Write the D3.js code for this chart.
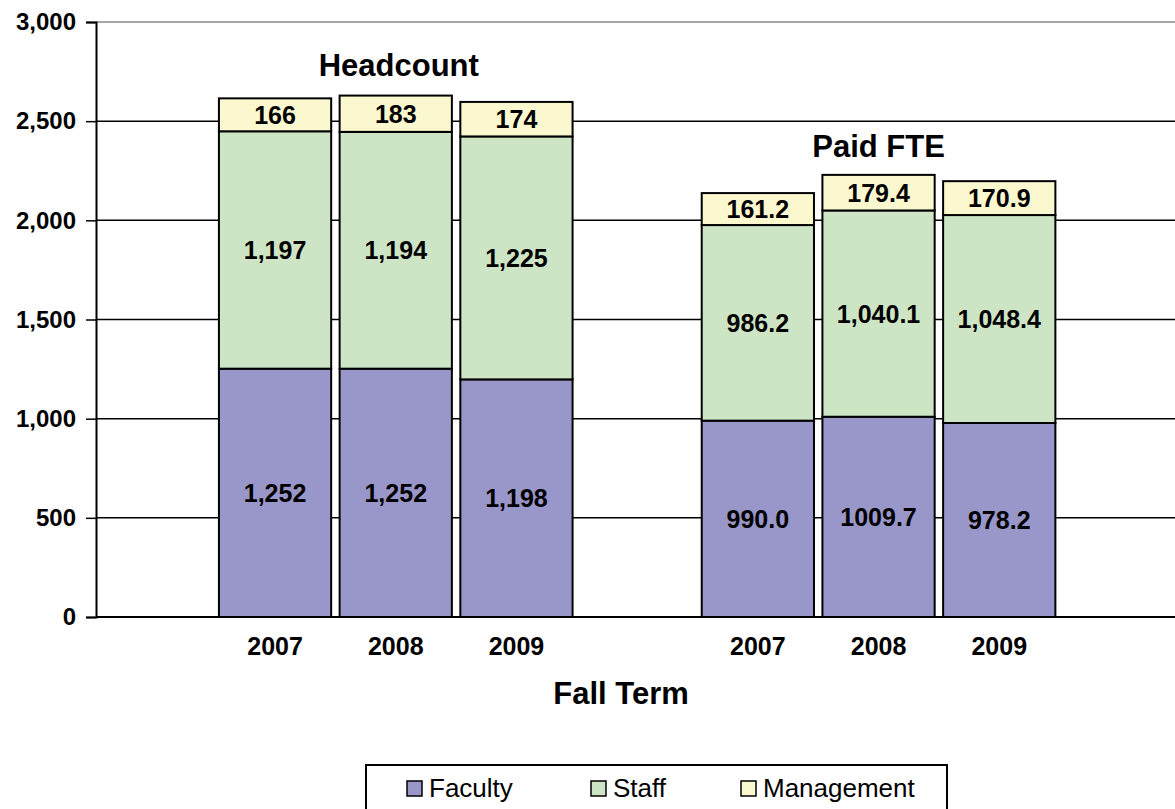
<!DOCTYPE html>
<html>
<head>
<meta charset="utf-8">
<script src="https://cdn.jsdelivr.net/npm/d3@7"></script>
<style>
  body { margin: 0; background: #fff; }
  svg { font-family: "Liberation Sans", Arial, sans-serif; }
</style>
</head>
<body>
<svg id="chart" width="1175" height="809"></svg>
<script>
// slots on the x axis (empty slots give the gaps)
var slots = ["e0", "H2007", "H2008", "H2009", "e4", "F2007", "F2008", "F2009", "e8"];
var slotLabels = ["", "2007", "2008", "2009", "", "2007", "2008", "2009", ""];

var barKeys = ["H2007", "H2008", "H2009", "F2007", "F2008", "F2009"];
var faculty    = [1252, 1252, 1198, 990.0, 1009.7, 978.2];
var staff      = [1197, 1194, 1225, 986.2, 1040.1, 1048.4];
var management = [166, 183, 174, 161.2, 179.4, 170.9];

var seriesNames  = ["Faculty", "Staff", "Management"];
var seriesColors = ["#9996c9", "#cde5c5", "#fbf8cf"];

var yTicks = [0, 500, 1000, 1500, 2000, 2500, 3000];

// label formats: headcount as integer, FTE with one decimal
var fmtHead = d3.format(",");
var fmtFte = [d3.format(".1f"), d3.format(",.1f"), d3.format(".1f")];

var svg = d3.select("#chart");
var plotL = 96, plotR = 1175, plotT = 22, plotB = 617;

// the category area runs a little past the right edge of the picture
var x = d3.scaleBand()
    .domain(slots)
    .range([94, 94 + 9 * 120.7])
    .paddingInner(0.07)
    .paddingOuter(0.035);

var y = d3.scaleLinear()
    .domain([0, 3000])
    .range([plotB, plotT]);

// gridlines
svg.append("g").selectAll("line")
    .data(yTicks.filter(function(t){ return t > 0; }))
    .enter()
    .append("line")
    .attr("x1", plotL).attr("x2", plotR)
    .attr("y1", function(d){ return y(d); })
    .attr("y2", function(d){ return y(d); })
    .attr("stroke", function(d){ return d == 3000 ? "#888" : "#000"; })
    .attr("stroke-width", 1.5);

// stacked data
var rows = barKeys.map(function(k, i){
    return { key: k, Faculty: faculty[i], Staff: staff[i], Management: management[i] };
});
var stack = d3.stack().keys(seriesNames)(rows);

var layers = svg.append("g").selectAll("g")
    .data(stack)
    .enter()
    .append("g")
    .attr("fill", function(d, i){ return seriesColors[i]; });

layers.selectAll("rect")
    .data(function(d){ return d; })
    .enter()
    .append("rect")
    .attr("x", function(d){ return x(d.data.key); })
    .attr("width", x.bandwidth())
    .attr("y", function(d){ return y(d[1]); })
    .attr("height", function(d){ return y(d[0]) - y(d[1]); })
    .attr("stroke", "#000")
    .attr("stroke-width", 2);

// value labels
stack.forEach(function(layer, si){
    svg.append("g").selectAll("text")
        .data(layer)
        .enter()
        .append("text")
        .attr("x", function(d){ return x(d.data.key) + x.bandwidth() / 2; })
        .attr("y", function(d){ return (y(d[0]) + y(d[1])) / 2; })
        .attr("dy", "0.36em")
        .attr("text-anchor", "middle")
        .attr("font-size", 25)
        .attr("font-weight", "bold")
        .text(function(d){
            var v = d[1] - d[0];
            return d.data.key[0] == "H" ? fmtHead(Math.round(v)) : fmtFte[si](v);
        });
});

// y axis
var yAxis = svg.append("g")
    .attr("transform", "translate(" + plotL + ",0)")
    .call(d3.axisLeft(y).tickValues(yTicks).tickSize(10).tickPadding(10).tickFormat(d3.format(",")));
yAxis.select(".domain").attr("stroke", "#000").attr("stroke-width", 2);
yAxis.selectAll(".tick line").attr("stroke", "#000").attr("stroke-width", 1.5);
yAxis.selectAll("text").attr("font-size", 24).attr("font-weight", "bold")
    .attr("font-family", "'Liberation Sans', Arial, sans-serif").attr("fill", "#000");

// x axis line at zero
svg.append("line")
    .attr("x1", plotL).attr("x2", plotR)
    .attr("y1", y(0)).attr("y2", y(0))
    .attr("stroke", "#000").attr("stroke-width", 2);

// x tick labels
svg.append("g").selectAll("text")
    .data(slots)
    .enter()
    .append("text")
    .attr("x", function(d){ return x(d) + x.bandwidth() / 2; })
    .attr("y", 655)
    .attr("text-anchor", "middle")
    .attr("font-size", 25)
    .attr("font-weight", "bold")
    .text(function(d, i){ return slotLabels[i]; });

// group titles
svg.append("text")
    .attr("x", (x("H2007") + x("H2009") + x.bandwidth()) / 2 + 3)
    .attr("y", 76)
    .attr("text-anchor", "middle")
    .attr("font-size", 31).attr("font-weight", "bold")
    .text("Headcount");
svg.append("text")
    .attr("x", (x("F2007") + x("F2009") + x.bandwidth()) / 2)
    .attr("y", 157)
    .attr("text-anchor", "middle")
    .attr("font-size", 31).attr("font-weight", "bold")
    .text("Paid FTE");

// axis title
svg.append("text")
    .attr("x", 621).attr("y", 704)
    .attr("text-anchor", "middle")
    .attr("font-size", 31).attr("font-weight", "bold")
    .text("Fall Term");

// legend
var legend = svg.append("g");
legend.append("rect")
    .attr("x", 366).attr("y", 765)
    .attr("width", 581).attr("height", 60)
    .attr("fill", "#fff").attr("stroke", "#000").attr("stroke-width", 2);
var legendX = [407, 591, 741];
seriesNames.forEach(function(name, i){
    legend.append("rect")
        .attr("x", legendX[i]).attr("y", 781)
        .attr("width", 15).attr("height", 15)
        .attr("fill", seriesColors[i]).attr("stroke", "#000").attr("stroke-width", 1.5);
    legend.append("text")
        .attr("x", legendX[i] + 22).attr("y", 797)
        .attr("font-size", 26)
        .text(name);
});
</script>
</body>
</html>
